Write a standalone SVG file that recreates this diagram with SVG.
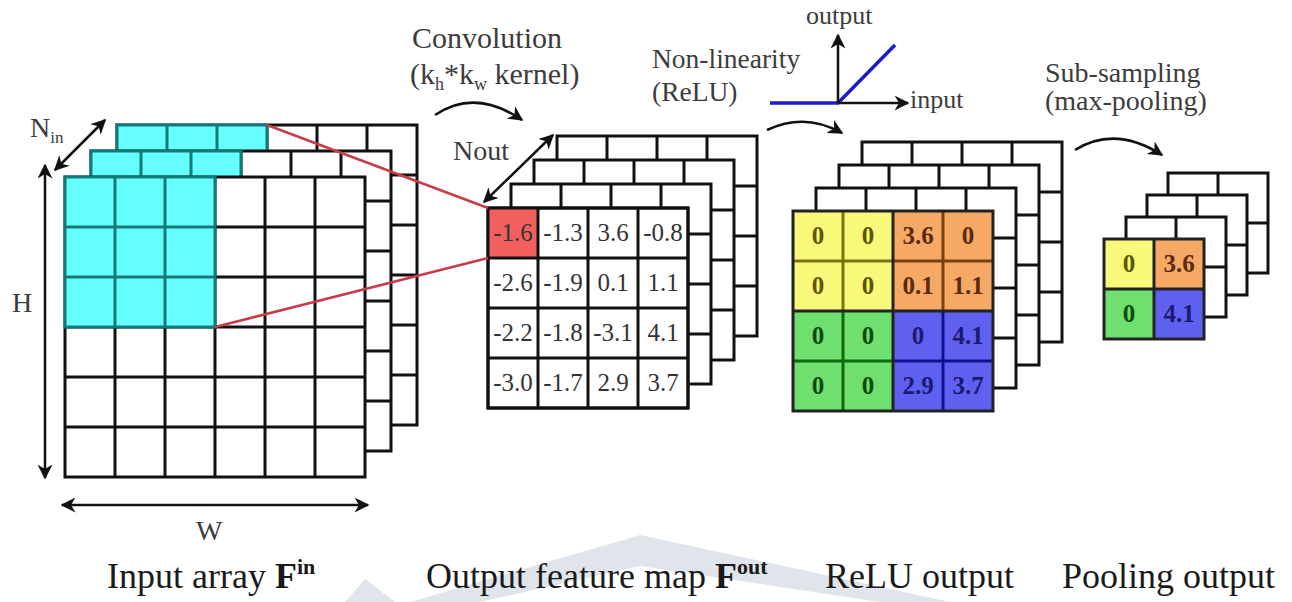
<svg xmlns="http://www.w3.org/2000/svg" width="1292" height="602" viewBox="0 0 1292 602">
<style>
.w{fill:#fff;stroke:#111;stroke-width:3}
.gl{fill:none;stroke:#111;stroke-width:3}
.cy{fill:#66ffff;stroke:#137a7a;stroke-width:3}
.cl{fill:none;stroke:#137a7a;stroke-width:3}
.lbl{font-family:"Liberation Serif",serif;fill:#3c3c3c}
.big{font-family:"Liberation Serif",serif;fill:#1a1a1a;font-size:36px}
.num{font-family:"Liberation Serif",serif;font-size:25px;text-anchor:middle;fill:#333}
.bn{font-family:"Liberation Serif",serif;font-size:25px;text-anchor:middle;font-weight:bold}
.arr{fill:none;stroke:#111;stroke-width:2.5}
</style>
<defs>
<marker id="ah" viewBox="0 0 10 10" refX="9" refY="5" markerWidth="6" markerHeight="6" orient="auto-start-reverse" markerUnits="strokeWidth">
<path d="M0,0 L10,5 L0,10 L3,5 z" fill="#111"/>
</marker>
</defs>

<g id="watermark" fill="#dfe5ea">
<path d="M345,602 L365,579 L395,602 Z"/>
<path d="M410,602 L640,535 L950,602 L880,602 L640,566 L480,602 Z"/>
</g>

<g id="input-array">
<g id="in-layer3">
<rect x="117" y="125" width="300" height="300" class="w"/>
<path class="gl" d="M167 125V425M217 125V425M267 125V425M317 125V425M367 125V425M117 175H417M117 225H417M117 275H417M117 325H417M117 375H417"/>
<rect x="117" y="125" width="150" height="150" class="cy"/>
<path class="cl" d="M167 125V275M217 125V275M117 175H267M117 225H267"/>
</g>
<g id="in-layer2">
<rect x="91" y="151" width="300" height="300" class="w"/>
<path class="gl" d="M141 151V451M191 151V451M241 151V451M291 151V451M341 151V451M91 201H391M91 251H391M91 301H391M91 351H391M91 401H391"/>
<rect x="91" y="151" width="150" height="150" class="cy"/>
<path class="cl" d="M141 151V301M191 151V301M91 201H241M91 251H241"/>
</g>
<g id="in-layer1">
<rect x="65" y="177" width="300" height="300" class="w"/>
<path class="gl" d="M115 177V477M165 177V477M215 177V477M265 177V477M315 177V477M65 227H365M65 277H365M65 327H365M65 377H365M65 427H365"/>
<rect x="65" y="177" width="150" height="150" class="cy"/>
<path class="cl" d="M115 177V327M165 177V327M65 227H215M65 277H215"/>
</g>
</g>

<g id="output-map">
<g id="out-layer4">
<rect x="557" y="136" width="200" height="200" class="w"/>
<path class="gl" d="M607 136V336M657 136V336M707 136V336M557 186H757M557 236H757M557 286H757"/>
</g>
<g id="out-layer3">
<rect x="534" y="160" width="200" height="200" class="w"/>
<path class="gl" d="M584 160V360M634 160V360M684 160V360M534 210H734M534 260H734M534 310H734"/>
</g>
<g id="out-layer2">
<rect x="511" y="184" width="200" height="200" class="w"/>
<path class="gl" d="M561 184V384M611 184V384M661 184V384M511 234H711M511 284H711M511 334H711"/>
</g>
<g id="out-layer1">
<rect x="488" y="208" width="200" height="200" class="w"/>
<rect x="488" y="208" width="50" height="50" fill="#f25f5f"/>
<path class="gl" d="M538 208V408M588 208V408M638 208V408M488 258H688M488 308H688M488 358H688"/>
<rect x="488" y="208" width="200" height="200" fill="none" stroke="#111" stroke-width="3"/>
<text class="num" x="513" y="241">-1.6</text><text class="num" x="563" y="241">-1.3</text><text class="num" x="613" y="241">3.6</text><text class="num" x="663" y="241">-0.8</text>
<text class="num" x="513" y="291">-2.6</text><text class="num" x="563" y="291">-1.9</text><text class="num" x="613" y="291">0.1</text><text class="num" x="663" y="291">1.1</text>
<text class="num" x="513" y="341">-2.2</text><text class="num" x="563" y="341">-1.8</text><text class="num" x="613" y="341">-3.1</text><text class="num" x="663" y="341">4.1</text>
<text class="num" x="513" y="391">-3.0</text><text class="num" x="563" y="391">-1.7</text><text class="num" x="613" y="391">2.9</text><text class="num" x="663" y="391">3.7</text>
</g>
</g>

<g id="relu-output">
<g id="relu-layer4">
<rect x="862" y="142" width="200" height="200" class="w"/>
<path class="gl" d="M912 142V342M962 142V342M1012 142V342M862 192H1062M862 242H1062M862 292H1062"/>
</g>
<g id="relu-layer3">
<rect x="839" y="165" width="200" height="200" class="w"/>
<path class="gl" d="M889 165V365M939 165V365M989 165V365M839 215H1039M839 265H1039M839 315H1039"/>
</g>
<g id="relu-layer2">
<rect x="816" y="188" width="200" height="200" class="w"/>
<path class="gl" d="M866 188V388M916 188V388M966 188V388M816 238H1016M816 288H1016M816 338H1016"/>
</g>
<g id="relu-layer1">
<rect x="793" y="211" width="100" height="100" fill="#f8f87a"/>
<rect x="893" y="211" width="100" height="100" fill="#f6a964"/>
<rect x="793" y="311" width="100" height="100" fill="#6fe06f"/>
<rect x="893" y="311" width="100" height="100" fill="#6060f0"/>
<path d="M843 211V311M793 261H893" stroke="#7a7410" stroke-width="3"/>
<path d="M943 211V311M893 261H993" stroke="#7a4010" stroke-width="3"/>
<path d="M843 311V411M793 361H893" stroke="#0f6a0f" stroke-width="3"/>
<path d="M943 311V411M893 361H993" stroke="#101090" stroke-width="3"/>
<path d="M893 211V411M793 311H993" stroke="#222" stroke-width="3"/>
<rect x="793" y="211" width="200" height="200" fill="none" stroke="#222" stroke-width="3"/>
<g class="bn" fill="#5e5600"><text x="818" y="244">0</text><text x="868" y="244">0</text><text x="818" y="294">0</text><text x="868" y="294">0</text></g>
<g class="bn" fill="#5a2c0c"><text x="918" y="244">3.6</text><text x="968" y="244">0</text><text x="918" y="294">0.1</text><text x="968" y="294">1.1</text></g>
<g class="bn" fill="#0c4a0c"><text x="818" y="344">0</text><text x="868" y="344">0</text><text x="818" y="394">0</text><text x="868" y="394">0</text></g>
<g class="bn" fill="#1a1a70"><text x="918" y="344">0</text><text x="968" y="344">4.1</text><text x="918" y="394">2.9</text><text x="968" y="394">3.7</text></g>
</g>
</g>

<g id="pooling-output">
<g id="pool-layer4">
<rect x="1168" y="173" width="100" height="100" class="w"/>
<path class="gl" d="M1218 173V273M1168 223H1268"/>
</g>
<g id="pool-layer3">
<rect x="1147" y="195" width="100" height="100" class="w"/>
<path class="gl" d="M1197 195V295M1147 245H1247"/>
</g>
<g id="pool-layer2">
<rect x="1126" y="217" width="100" height="100" class="w"/>
<path class="gl" d="M1176 217V317M1126 267H1226"/>
</g>
<g id="pool-layer1">
<rect x="1104" y="239" width="50" height="50" fill="#f8f87a"/>
<rect x="1154" y="239" width="50" height="50" fill="#f6a964"/>
<rect x="1104" y="289" width="50" height="50" fill="#6fe06f"/>
<rect x="1154" y="289" width="50" height="50" fill="#6060f0"/>
<path d="M1154 239V339M1104 289H1204" stroke="#222" stroke-width="3"/>
<rect x="1104" y="239" width="100" height="100" fill="none" stroke="#222" stroke-width="3"/>
<text class="bn" fill="#5e5600" x="1129" y="272">0</text>
<text class="bn" fill="#5a2c0c" x="1179" y="272">3.6</text>
<text class="bn" fill="#0c4a0c" x="1129" y="322">0</text>
<text class="bn" fill="#1a1a70" x="1179" y="322">4.1</text>
</g>
</g>

<g id="relu-graph">
<path d="M770 103H838L895 45" fill="none" stroke="#1c1cc8" stroke-width="3.5"/>
<path class="arr" d="M838 103V35" marker-end="url(#ah)"/>
<path class="arr" d="M838 103H908" marker-end="url(#ah)"/>
</g>

<g id="connectors">
<path d="M267 125L488 208M215 327L488 258" fill="none" stroke="#c83c48" stroke-width="2.5"/>
<path class="arr" d="M45 165V478" marker-start="url(#ah)" marker-end="url(#ah)"/>
<path class="arr" d="M62 505H368" marker-start="url(#ah)" marker-end="url(#ah)"/>
<path class="arr" d="M55 170L105 120" marker-start="url(#ah)" marker-end="url(#ah)"/>
<path class="arr" d="M484 202L553 135" marker-start="url(#ah)" marker-end="url(#ah)"/>
<path class="arr" d="M435 115Q475 88 522 120" marker-end="url(#ah)"/>
<path class="arr" d="M767 130Q805 112 842 133" marker-end="url(#ah)"/>
<path class="arr" d="M1075 150Q1115 125 1162 155" marker-end="url(#ah)"/>
</g>

<g id="labels">
<text class="lbl" x="412" y="48" font-size="30">Convolution</text>
<text class="lbl" x="410" y="84" font-size="30">(k<tspan font-size="18" dy="6">h</tspan><tspan dy="-6">*k</tspan><tspan font-size="18" dy="6">w</tspan><tspan dy="-6"> kernel)</tspan></text>
<text class="lbl" x="652" y="68" font-size="27.5">Non-linearity</text>
<text class="lbl" x="652" y="101" font-size="27.5">(ReLU)</text>
<text class="lbl" x="806" y="24" font-size="26">output</text>
<text class="lbl" x="910" y="108" font-size="26">input</text>
<text class="lbl" x="1045" y="82" font-size="28">Sub-sampling</text>
<text class="lbl" x="1045" y="110" font-size="28">(max-pooling)</text>
<text class="lbl" x="30" y="137" font-size="28">N<tspan font-size="17" dy="6">in</tspan></text>
<text class="lbl" x="12" y="312" font-size="28">H</text>
<text class="lbl" x="196" y="540" font-size="28">W</text>
<text class="lbl" x="453" y="160" font-size="28">Nout</text>
<text class="big" x="107" y="588">Input array <tspan font-weight="bold">F</tspan><tspan font-weight="bold" font-size="22" dy="-14">in</tspan></text>
<text class="big" x="426" y="588">Output feature map <tspan font-weight="bold">F</tspan><tspan font-weight="bold" font-size="22" dy="-14">out</tspan></text>
<text class="big" x="825" y="588">ReLU output</text>
<text class="big" x="1062" y="588">Pooling output</text>
</g>
</svg>
